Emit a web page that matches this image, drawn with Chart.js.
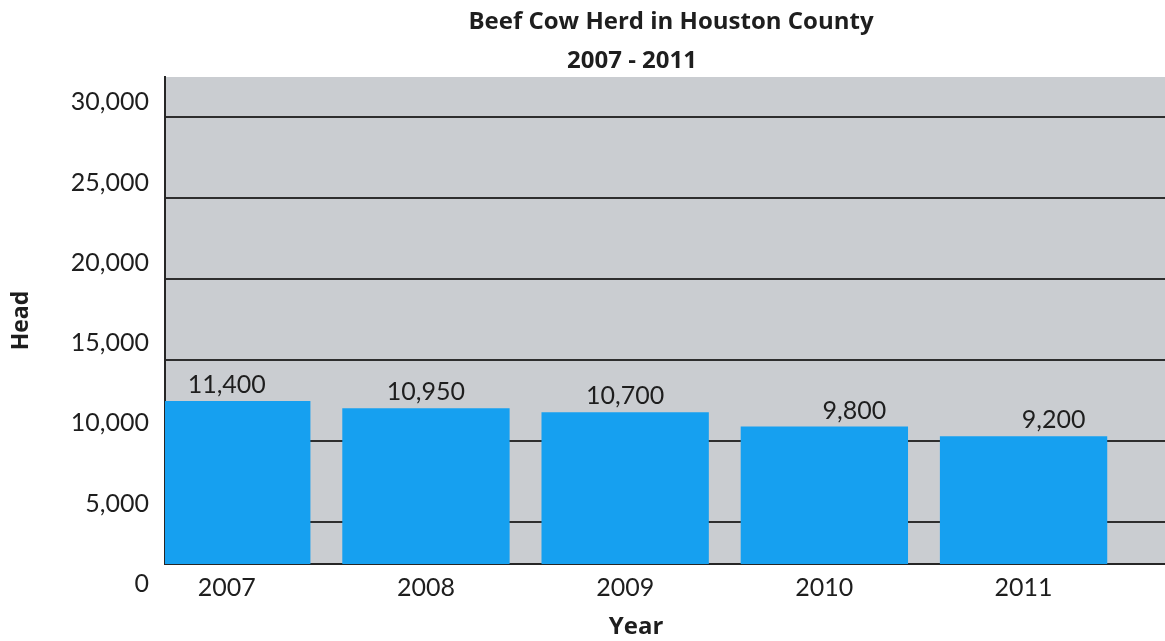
<!DOCTYPE html>
<html>
<head>
<meta charset="utf-8">
<title>Beef Cow Herd in Houston County</title>
<script src="https://cdn.jsdelivr.net/npm/chart.js@4.4.1/dist/chart.umd.min.js"></script>
<style>
  html, body { margin: 0; padding: 0; background: #ffffff; }
  canvas { display: block; }
</style>
</head>
<body>
<canvas id="herdChart" width="1165" height="641"></canvas>
<script>
// Beef cow herd (head) by year
const years = [2007, 2008, 2009, 2010, 2011];
const headCounts = [11400, 10950, 10700, 9800, 9200];
const headTicks = [0, 5000, 10000, 15000, 20000, 25000, 30000];

const chartTitle = 'Beef Cow Herd in Houston County';
const chartSubtitle = '2007 - 2011';
const xAxisTitle = 'Year';
const yAxisTitle = 'Head';

const FONT = 'Lato, "Open Sans", sans-serif';
const HEAD_FONT = '"Open Sans", Lato, sans-serif';
const TEXT = '#1e1e1e';
const fmt = v => Number(v).toLocaleString('en-US');

// grey plot panel behind everything
const panel = {
  id: 'panel',
  beforeDraw(chart, args, opts) {
    const { ctx, chartArea: a } = chart;
    ctx.save();
    ctx.fillStyle = opts.color;
    ctx.fillRect(a.left, a.top, a.right - a.left, a.bottom - a.top);
    ctx.restore();
  }
};

// value printed above each bar
const valueLabels = {
  id: 'valueLabels',
  afterDatasetsDraw(chart, args, opts) {
    const { ctx } = chart;
    const meta = chart.getDatasetMeta(0);
    const ds = chart.data.datasets[0];
    ctx.save();
    ctx.font = opts.font;
    ctx.fillStyle = opts.color;
    ctx.textAlign = 'center';
    ctx.textBaseline = 'middle';
    meta.data.forEach((bar, i) => {
      const shift = (opts.shiftX && opts.shiftX[i]) || 0;
      ctx.fillText(fmt(ds.data[i].y), bar.x + shift, bar.y - opts.gap);
    });
    ctx.restore();
  }
};

// chart heading lines and the year axis caption
const headings = {
  id: 'headings',
  afterDraw(chart, args, opts) {
    const { ctx, chartArea: a } = chart;
    const centre = (a.left + a.right) / 2;
    ctx.save();
    ctx.fillStyle = opts.color;
    ctx.textAlign = 'center';
    ctx.textBaseline = 'middle';
    ctx.font = opts.font;
    ctx.fillText(chartTitle, centre + 6, 22);
    ctx.fillText(chartSubtitle, centre - 33, 61);
    ctx.fillText(xAxisTitle, centre - 29, 627);
    ctx.restore();
  }
};

new Chart(document.getElementById('herdChart'), {
  type: 'bar',
  data: {
    datasets: [{
      label: yAxisTitle,
      data: years.map((yr, i) => ({ x: yr, y: headCounts[i] })),
      backgroundColor: '#16a0f0',
      borderWidth: 0,
      barPercentage: 0.84,
      categoryPercentage: 1,
      clip: 0,
      yAxisID: 'y'
    }]
  },
  options: {
    responsive: false,
    animation: false,
    devicePixelRatio: 1,
    layout: { padding: { top: 77, left: 0, right: 0, bottom: 0 } },
    plugins: {
      legend: { display: false },
      tooltip: { enabled: false },
      title: { display: false },
      panel: { color: '#cacdd1' },
      valueLabels: { font: '25px ' + FONT, color: TEXT, gap: 16, shiftX: [0, 0, 0, 30, 30] },
      headings: { font: 'bold 24px ' + HEAD_FONT, color: TEXT }
    },
    scales: {
      x: {
        type: 'linear',
        offset: false,
        min: 2006.69,
        max: 2011.71,
        z: 1,
        afterBuildTicks: s => { s.ticks = years.map(v => ({ value: v })); },
        afterFit: s => { s.height = 77; },
        grid: { display: false, drawTicks: false, offset: false },
        border: { display: true, color: '#262626', width: 2 },
        ticks: {
          padding: 9,
          font: { family: FONT, size: 25 },
          color: TEXT,
          maxRotation: 0,
          autoSkip: false,
          callback: v => String(v)
        }
      },
      y: {
        type: 'linear',
        position: 'left',
        min: 1245,
        max: 31570,
        z: 1,
        afterBuildTicks: s => { s.ticks = headTicks.map(v => ({ value: v })); },
        afterFit: s => { s.width = 165; },
        grid: { display: false, drawTicks: false },
        border: { display: true, color: '#262626', width: 2 },
        ticks: {
          padding: 16,
          font: { family: FONT, size: 25 },
          color: TEXT,
          autoSkip: false,
          callback: v => fmt(v)
        },
        title: {
          display: true,
          text: yAxisTitle,
          font: { family: HEAD_FONT, size: 23, weight: 'bold' },
          color: TEXT,
          padding: { top: 8, bottom: 0 }
        }
      },
      // horizontal rules across the grey panel
      rules: {
        type: 'linear',
        position: 'right',
        min: 2407,
        max: 32469,
        afterBuildTicks: s => {
          s.ticks = headTicks.filter(v => v >= s.min && v <= s.max).map(v => ({ value: v }));
        },
        afterFit: s => { s.width = 0; },
        grid: { display: true, drawTicks: false, color: '#2e2e2e', lineWidth: 2 },
        border: { display: false },
        ticks: { display: false }
      }
    }
  },
  plugins: [panel, valueLabels, headings]
});
</script>
</body>
</html>
